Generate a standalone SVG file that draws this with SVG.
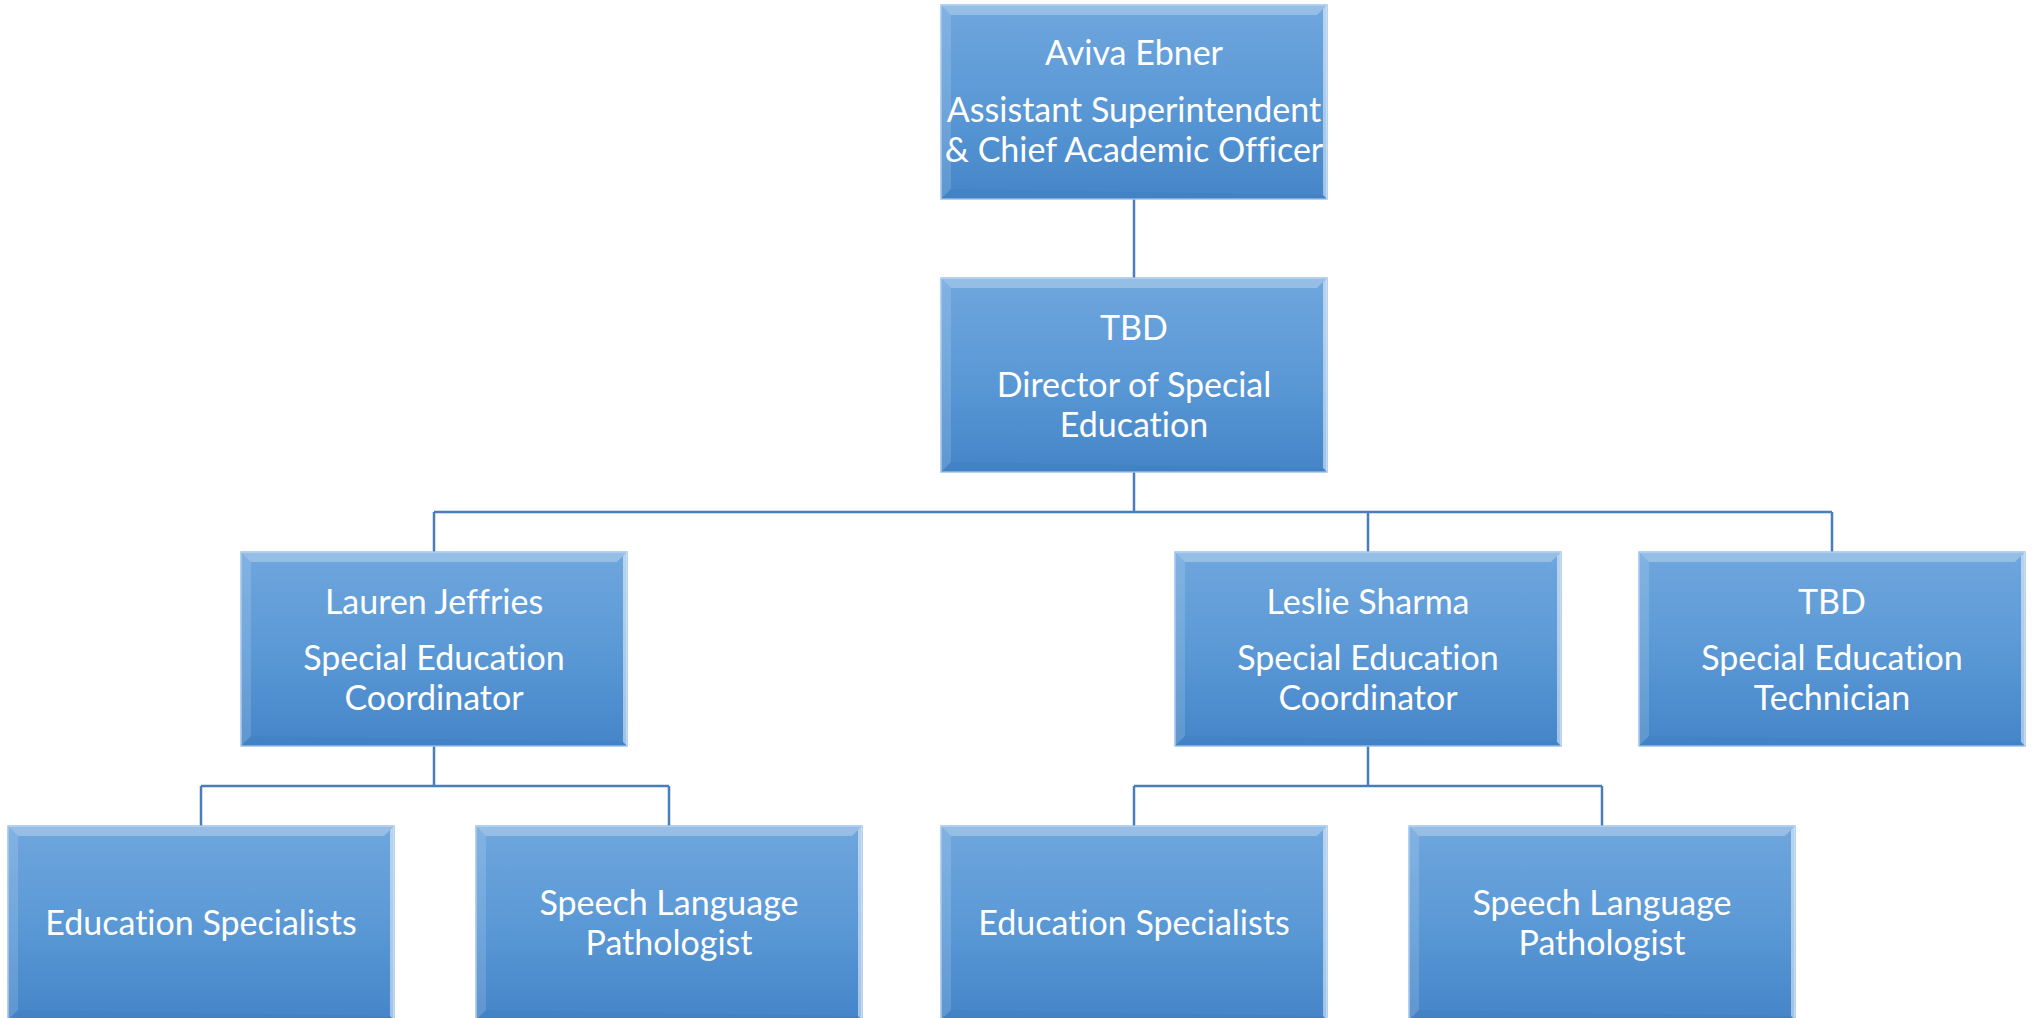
<svg xmlns="http://www.w3.org/2000/svg" xmlns:xlink="http://www.w3.org/1999/xlink" width="2032" height="1018" viewBox="0 0 2032 1018">
<style>
.conn{fill:none;stroke:#4a7ebb;stroke-width:2.5}
.t{font-family:Lato,"Open Sans","Liberation Sans",sans-serif;font-size:34px;fill:#ffffff;text-anchor:middle;font-variant-ligatures:none}
</style>
<defs>
<linearGradient id="g" x1="0" y1="0" x2="0" y2="1">
<stop offset="0" stop-color="#6fa6dd"/>
<stop offset="0.5" stop-color="#5b99d6"/>
<stop offset="1" stop-color="#4585c8"/>
</linearGradient>
<g id="box">
<rect x="0" y="0" width="386" height="194" fill="url(#g)" stroke="#9cc3ea" stroke-width="1.5"/>
<polygon points="0,0 386,0 376,10 10,10" fill="#ffffff" fill-opacity="0.28"/>
<polygon points="0,0 10,10 10,184 0,194" fill="#ffffff" fill-opacity="0.14"/>
<polygon points="386,0 386,194 382,190 382,4" fill="#ffffff" fill-opacity="0.5"/>
<polygon points="0,194 386,194 382,190 10,184" fill="#1f5a99" fill-opacity="0.08"/>
</g>
</defs>
<rect width="2032" height="1018" fill="#ffffff"/>
<g id="connectors">
<path class="conn" d="M1134,199 V278" stroke-width="3.5"/>
<path class="conn" d="M1134,472 V512 M434,512 H1832 M434,512 V552 M1368,512 V552 M1832,512 V552"/>
<path class="conn" d="M434,746 V786 M201,786 H669 M201,786 V826 M669,786 V826"/>
<path class="conn" d="M1368,746 V786 M1134,786 H1602 M1134,786 V826 M1602,786 V826"/>
</g>
<g id="n-aviva">
<use xlink:href="#box" x="941" y="5"/>
<text class="t" x="1134" y="65">Aviva Ebner</text>
<text class="t" x="1134" y="122">Assistant Superintendent</text>
<text class="t" x="1134" y="162">&amp; Chief Academic Officer</text>
</g>
<g id="n-director">
<use xlink:href="#box" x="941" y="278"/>
<text class="t" x="1134" y="340">TBD</text>
<text class="t" x="1134" y="397">Director of Special</text>
<text class="t" x="1134" y="437">Education</text>
</g>
<g id="n-lauren">
<use xlink:href="#box" x="241" y="552"/>
<text class="t" x="434" y="614">Lauren Jeffries</text>
<text class="t" x="434" y="670">Special Education</text>
<text class="t" x="434" y="710">Coordinator</text>
</g>
<g id="n-leslie">
<use xlink:href="#box" x="1175" y="552"/>
<text class="t" x="1368" y="614">Leslie Sharma</text>
<text class="t" x="1368" y="670">Special Education</text>
<text class="t" x="1368" y="710">Coordinator</text>
</g>
<g id="n-tech">
<use xlink:href="#box" x="1639" y="552"/>
<text class="t" x="1832" y="614">TBD</text>
<text class="t" x="1832" y="670">Special Education</text>
<text class="t" x="1832" y="710">Technician</text>
</g>
<g id="n-edu1">
<use xlink:href="#box" x="8" y="826"/>
<text class="t" x="201" y="935">Education Specialists</text>
</g>
<g id="n-slp1">
<use xlink:href="#box" x="476" y="826"/>
<text class="t" x="669" y="915">Speech Language</text>
<text class="t" x="669" y="955">Pathologist</text>
</g>
<g id="n-edu2">
<use xlink:href="#box" x="941" y="826"/>
<text class="t" x="1134" y="935">Education Specialists</text>
</g>
<g id="n-slp2">
<use xlink:href="#box" x="1409" y="826"/>
<text class="t" x="1602" y="915">Speech Language</text>
<text class="t" x="1602" y="955">Pathologist</text>
</g>
</svg>
